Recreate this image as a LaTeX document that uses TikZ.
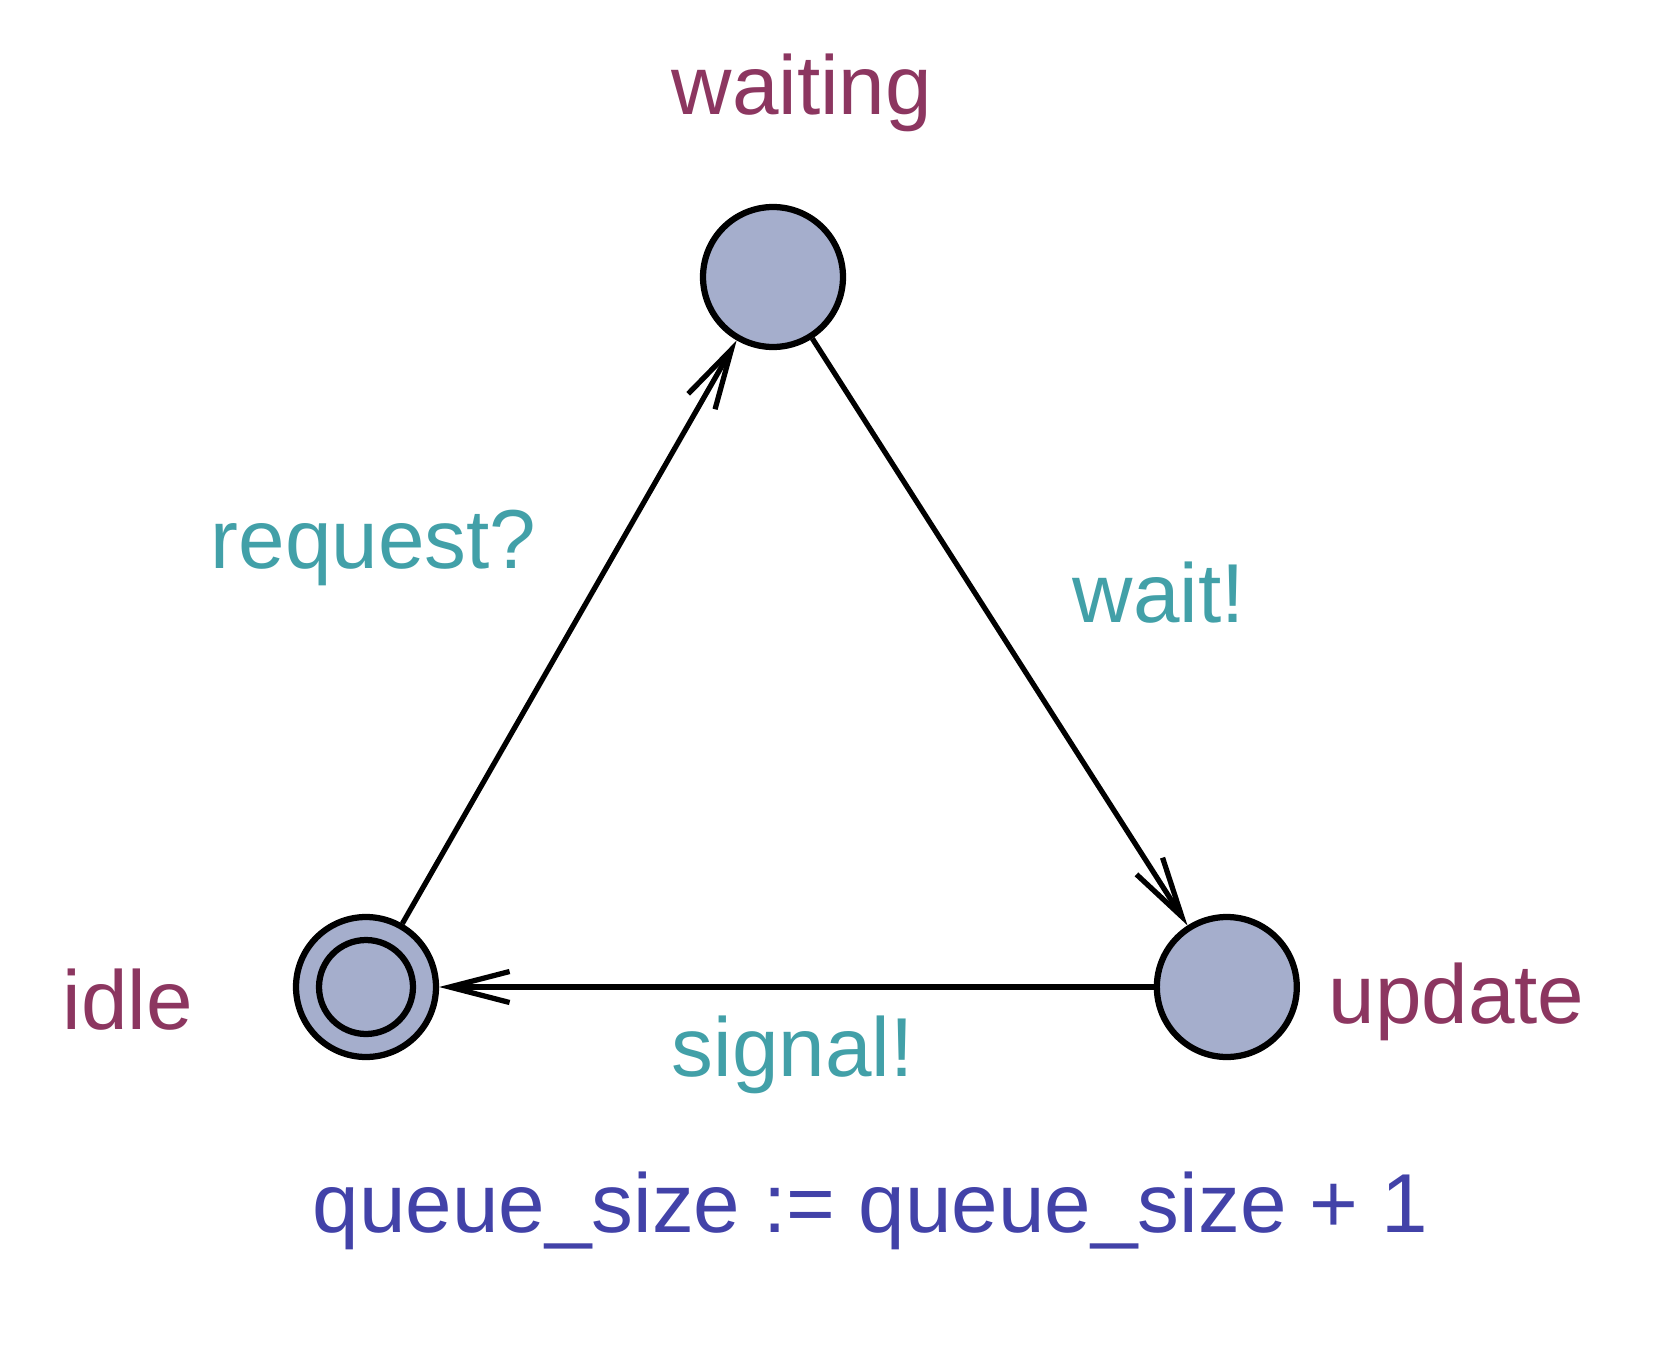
\documentclass[tikz,border=0pt]{standalone}
\usepackage{fontspec}
\setmainfont{Liberation Sans}
\usetikzlibrary{shapes,positioning,arrows,arrows.meta}

\definecolor{locname}{RGB}{140,54,96}
\definecolor{synclbl}{RGB}{66,160,168}
\definecolor{assignlbl}{RGB}{66,66,168}
\definecolor{locfill}{RGB}{165,174,204}

\tikzset{
  loc/.style={circle,draw=black,fill=locfill,line width=0.125cm,minimum size=2.8cm,inner sep=0pt},
  lbl/.style={inner sep=0pt,anchor=base west,font=\fontsize{47.6}{57}\selectfont},
}

\begin{document}
\begin{tikzpicture}[x=0.02cm,y=-0.02cm,->,>={Straight Barb[length=1.2cm,width=0.62cm]},thick]
    \useasboundingbox (0,0) rectangle (1680,1348);

    \node[loc] (1) at (366,987) {};
    \node[loc, right of=1, node distance=17.22cm] (3) {};
    \node[loc] (2) at (773,277) {};
    \draw[-,line width=0.125cm] (1) circle[radius=0.94cm];

    \node[lbl,text=locname] (n1) at (62,1029) {idle};
    \node[lbl,text=locname] (n2) at (671,115) {waiting};
    \node[lbl,text=locname] (n3) at (1328,1023) {update};

    \node[lbl,text=synclbl] (s1) at (210,568) {request?};
    \node[lbl,text=synclbl] (s2) at (1072,622) {wait!};
    \node[lbl,text=synclbl] (s3) at (671,1076) {signal!};
    \node[lbl,text=assignlbl] (a3) at (312,1232) {queue\_size := queue\_size + 1};

    \path[line width=0.105cm]
    (1) edge (2)
    (2) edge (3)
    (3) edge (1);
\end{tikzpicture}
\end{document}
